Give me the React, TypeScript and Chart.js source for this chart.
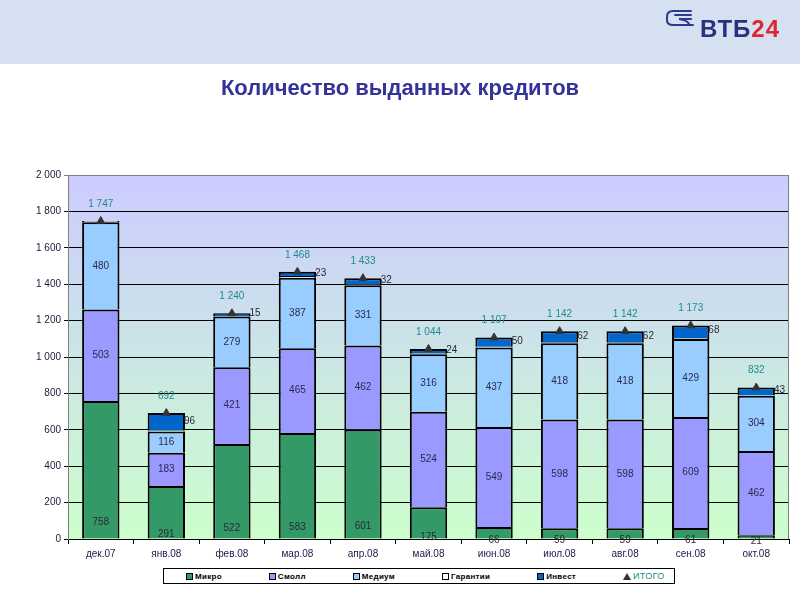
import React, { useEffect, useRef } from "react";
import { Chart, registerables } from "chart.js";

Chart.register(...registerables);

const titleText = "Количество выданных кредитов";
const categories = ["дек.07", "янв.08", "фев.08", "мар.08", "апр.08", "май.08", "июн.08", "июл.08", "авг.08", "сен.08", "окт.08"];
const micro = [758, 291, 522, 583, 601, 175, 66, 59, 59, 61, 21];
const small = [503, 183, 421, 465, 462, 524, 549, 598, 598, 609, 462];
const medium = [480, 116, 279, 387, 331, 316, 437, 418, 418, 429, 304];
const guarantees = [6, 6, 3, 10, 7, 5, 5, 5, 5, 6, 2];
const invest = [0, 96, 15, 23, 32, 24, 50, 62, 62, 68, 43];
const totals = [1747, 692, 1240, 1468, 1433, 1044, 1107, 1142, 1142, 1173, 832];
const seriesNames = ["Микро", "Смолл", "Медиум", "Гарантии", "Инвест", "ИТОГО"];
const seriesColors = ["#339966", "#9999FF", "#99CCFF", "#FFFFFF", "#0066CC"];
const yMin = 0;
const yMax = 2000;
const yStep = 200;

const FONT = "'Liberation Sans', Arial, sans-serif";
const TEAL = "#1E8C8C";

const fmt = (n: number) => String(n).replace(/\B(?=(\d{3})+(?!\d))/g, " ");

const decorPlugin = {
  id: "decor",
  beforeDraw(chart: any) {
    const { ctx, chartArea: a, width } = chart;
    ctx.save();
    ctx.fillStyle = "#ffffff";
    ctx.fillRect(0, 0, width, chart.height);
    ctx.fillStyle = "#D5E1F1";
    ctx.fillRect(0, 0, width, 64);
    // logo icon
    ctx.strokeStyle = "#2B3A8C";
    ctx.lineWidth = 2;
    ctx.lineCap = "round";
    const ix = 667, iy = 11;
    ctx.beginPath();
    ctx.moveTo(ix + 24, iy);
    ctx.lineTo(ix + 6, iy);
    ctx.quadraticCurveTo(ix, iy, ix, iy + 6);
    ctx.lineTo(ix, iy + 9);
    ctx.quadraticCurveTo(ix, iy + 14, ix + 6, iy + 14);
    ctx.lineTo(ix + 26, iy + 14);
    ctx.stroke();
    ctx.beginPath();
    ctx.moveTo(ix + 24, iy + 4);
    ctx.lineTo(ix + 8, iy + 4);
    ctx.moveTo(ix + 24, iy + 8);
    ctx.lineTo(ix + 12, iy + 8);
    ctx.quadraticCurveTo(ix + 20, iy + 9, ix + 22, iy + 13);
    ctx.stroke();
    // logo text
    ctx.font = "bold 24px " + FONT;
    (ctx as any).letterSpacing = "1px";
    ctx.textBaseline = "alphabetic";
    ctx.textAlign = "left";
    ctx.fillStyle = "#27327F";
    ctx.fillText("ВТБ", 700, 37);
    const w = ctx.measureText("ВТБ").width;
    ctx.fillStyle = "#E0262C";
    ctx.fillText("24", 700 + w, 37);
    (ctx as any).letterSpacing = "0px";
    // title
    ctx.font = "bold 22px " + FONT;
    ctx.textAlign = "center";
    ctx.fillStyle = "#333399";
    ctx.fillText(titleText, 400, 95);
    // plot background gradient
    const g = ctx.createLinearGradient(0, a.top, 0, a.bottom);
    g.addColorStop(0, "#CCCCFF");
    g.addColorStop(1, "#CCFFCC");
    ctx.fillStyle = g;
    ctx.fillRect(a.left, a.top, a.width, a.height);
    ctx.restore();
  },
  afterDraw(chart: any) {
    const { ctx, chartArea: a } = chart;
    ctx.save();
    ctx.strokeStyle = "#808080";
    ctx.lineWidth = 1;
    ctx.beginPath();
    ctx.moveTo(a.left, a.top + 0.5);
    ctx.lineTo(a.right - 0.5, a.top + 0.5);
    ctx.lineTo(a.right - 0.5, a.bottom);
    ctx.stroke();
    ctx.restore();
  },
};

const labelsPlugin = {
  id: "barLabels",
  afterDatasetsDraw(chart: any) {
    const { ctx } = chart;
    ctx.save();
    ctx.font = "10px " + FONT;
    ctx.textBaseline = "middle";
    const draw = (dsIndex: number, fn: (el: any, v: number) => void) => {
      const meta = chart.getDatasetMeta(dsIndex);
      const data = chart.data.datasets[dsIndex].data as number[];
      meta.data.forEach((el: any, i: number) => fn(el, data[i]));
    };
    draw(0, (el, v) => {
      const h = el.base - el.y;
      ctx.fillStyle = "#2A2A3A";
      ctx.textAlign = "center";
      ctx.fillText(fmt(v), el.x, el.base + 3.5 - 0.143 * h);
    });
    [1, 2].forEach((d) =>
      draw(d, (el, v) => {
        ctx.fillStyle = "#2A2A50";
        ctx.textAlign = "center";
        ctx.fillText(fmt(v), el.x, (el.y + el.base) / 2);
      })
    );
    draw(4, (el, v) => {
      if (!v) return;
      ctx.fillStyle = "#2A2A3A";
      ctx.textAlign = "left";
      ctx.fillText(fmt(v), el.x + el.width / 2 - 1, (el.y + el.base) / 2 - 1);
    });
    draw(5, (el, v) => {
      ctx.fillStyle = TEAL;
      ctx.textAlign = "center";
      ctx.fillText(fmt(v), el.x, el.y - 17);
    });
    ctx.restore();
  },
};

function Legend() {
  return (
    <div
      style={{
        position: "absolute",
        left: 163,
        top: 568,
        width: 488,
        height: 14,
        border: "1px solid #000",
        display: "flex",
        alignItems: "center",
        gap: 47,
        paddingLeft: 22,
        boxSizing: "content-box",
        fontFamily: FONT,
        fontSize: 8,
        fontWeight: "bold",
        letterSpacing: "0.3px",
        whiteSpace: "nowrap",
        background: "#fff",
      }}
    >
      {seriesNames.map((name, i) => (
        <div key={name} style={{ display: "flex", alignItems: "center", gap: 2 }}>
          {i < 5 ? (
            <span style={{ display: "inline-block", width: 5, height: 5, border: "1px solid #000", background: seriesColors[i] }} />
          ) : (
            <span style={{ display: "inline-block", width: 0, height: 0, borderLeft: "4px solid transparent", borderRight: "4px solid transparent", borderBottom: "7px solid #333" }} />
          )}
          <span style={{ color: i === 5 ? TEAL : "#000", fontWeight: i === 5 ? "normal" : "bold", fontSize: i === 5 ? 9 : 8 }}>{name}</span>
        </div>
      ))}
    </div>
  );
}

export default function App() {
  const ref = useRef<HTMLCanvasElement>(null);
  useEffect(() => {
    if (!ref.current) return;
    const barBase = {
      type: "bar" as const,
      borderColor: "#000000",
      borderWidth: 2,
      stack: "s",
      order: 2,
    };
    const chart = new Chart(ref.current, {
      type: "bar",
      data: {
        labels: categories,
        datasets: [
          ...seriesColors.map((c, i) => ({
            ...barBase,
            label: seriesNames[i],
            data: [micro, small, medium, guarantees, invest][i],
            backgroundColor: c,
          })),
          {
            type: "line" as const,
            label: seriesNames[5],
            data: totals,
            stack: "itogo",
            showLine: false,
            pointStyle: "triangle",
            pointRadius: 4.5,
            pointBackgroundColor: "#333333",
            pointBorderColor: "#333333",
            borderColor: "#333333",
            backgroundColor: "#333333",
            order: 1,
          } as any,
        ],
      },
      options: {
        responsive: false,
        animation: false,
        events: [],
        layout: { padding: { top: 175, left: 33, right: 11, bottom: 36 } },
        datasets: { bar: { categoryPercentage: 1, barPercentage: 0.57 } },
        scales: {
          x: {
            stacked: true,
            offset: true,
            grid: { offset: true, drawOnChartArea: false, drawTicks: true, tickLength: 5, color: "#000" },
            border: { color: "#000", width: 1 },
            ticks: { color: "#1A1A4A", font: { size: 10, family: FONT }, padding: 4 },
          },
          y: {
            stacked: true,
            min: yMin,
            max: yMax,
            grid: { color: (c: any) => (c.tick && c.tick.value === yMax ? "#808080" : "#000"), tickLength: 4, lineWidth: 1 },
            border: { color: "#808080", width: 1 },
            ticks: {
              stepSize: yStep,
              color: "#1A1A3A",
              font: { size: 10, family: FONT },
              padding: 3,
              callback: (v: any) => fmt(Number(v)),
            },
          },
        },
        plugins: {
          title: { display: false },
          legend: { display: false },
          tooltip: { enabled: false },
        },
      },
      plugins: [decorPlugin, labelsPlugin],
    });
    return () => chart.destroy();
  }, []);
  return (
    <div style={{ position: "fixed", left: 0, top: 0, width: 800, height: 600, background: "#fff" }}>
      <canvas ref={ref} width={800} height={600} style={{ display: "block", width: 800, height: 600 }} />
      <Legend />
    </div>
  );
}
